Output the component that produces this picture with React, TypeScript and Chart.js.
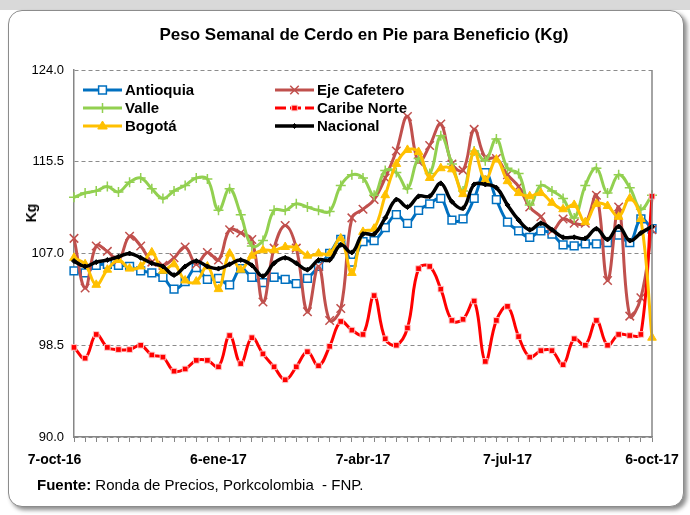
import React, { useEffect, useRef } from 'react';
import { Chart, registerables } from 'chart.js';

Chart.register(...registerables);

const weeks = [
  '7-oct-16', '14-oct-16', '21-oct-16', '28-oct-16',
  '4-nov-16', '11-nov-16', '18-nov-16', '25-nov-16',
  '2-dic-16', '9-dic-16', '16-dic-16', '23-dic-16', '30-dic-16',
  '6-ene-17', '13-ene-17', '20-ene-17', '27-ene-17',
  '3-feb-17', '10-feb-17', '17-feb-17', '24-feb-17',
  '3-mar-17', '10-mar-17', '17-mar-17', '24-mar-17', '31-mar-17',
  '7-abr-17', '14-abr-17', '21-abr-17', '28-abr-17',
  '5-may-17', '12-may-17', '19-may-17', '26-may-17',
  '2-jun-17', '9-jun-17', '16-jun-17', '23-jun-17', '30-jun-17',
  '7-jul-17', '14-jul-17', '21-jul-17', '28-jul-17',
  '4-ago-17', '11-ago-17', '18-ago-17', '25-ago-17',
  '1-sep-17', '8-sep-17', '15-sep-17', '22-sep-17', '29-sep-17',
  '6-oct-17',
];

const tickWeeks = ['7-oct-16', '6-ene-17', '7-abr-17', '7-jul-17', '6-oct-17'];

const antioquia = [
  105.4, 105.2, 105.9, 106.0, 105.9, 105.8, 105.4, 105.2, 104.8, 103.7,
  104.4, 105.7, 104.6, 104.7, 104.1, 105.6, 104.8, 104.3, 104.8, 104.6,
  104.2, 104.7, 105.8, 107.0, 108.3, 106.2, 108.1, 108.2, 109.4, 110.6,
  109.8, 111.0, 111.6, 112.1, 110.1, 110.2, 112.1, 114.5, 112.0, 109.9,
  109.1, 108.5, 109.1, 108.8, 107.8, 107.7, 107.9, 107.9, 108.0, 108.7,
  108.0, 110.2, 109.3,
];

const ejeCafetero = [
  108.4, 103.8, 107.7, 107.2, 106.4, 108.6, 107.7, 106.2, 105.9, 106.6,
  107.6, 106.0, 107.1, 106.4, 109.2, 108.9, 108.3, 102.5, 107.5, 109.6,
  107.5, 101.6, 105.8, 100.8, 101.9, 110.3, 111.1, 112.0, 114.0, 116.5,
  119.7, 115.5, 117.0, 119.0, 115.3, 114.7, 118.5, 115.9, 115.8, 114.3,
  113.2, 111.3, 110.4, 109.1, 110.2, 109.8, 109.8, 112.4, 104.5, 111.3,
  101.2, 102.9, 109.2,
];

const valle = [
  112.2, 112.6, 112.8, 113.2, 112.7, 113.6, 114.0, 113.0, 112.1, 112.8,
  113.3, 114.0, 113.9, 111.0, 113.0, 110.6, 107.7, 108.2, 111.0, 111.0,
  111.6, 111.3, 111.0, 110.9, 113.3, 114.3, 114.0, 112.4, 114.7, 114.5,
  113.0, 115.8, 114.4, 117.9, 115.3, 112.8, 116.5, 115.6, 117.6, 114.9,
  114.4, 111.5, 113.3, 112.8, 112.1, 110.3, 113.3, 114.9, 112.6, 114.3,
  113.1, 111.1, 112.4,
];

const caribeNorte = [
  98.3, 97.3, 99.5, 98.3, 98.1, 98.1, 98.5, 97.6, 97.4, 96.1,
  96.3, 97.1, 97.1, 96.5, 99.4, 96.8, 99.2, 97.7, 96.5, 95.3,
  96.5, 97.9, 96.6, 98.4, 100.7, 99.9, 99.5, 103.1, 99.1, 98.5,
  100.1, 105.6, 105.8, 103.7, 100.8, 100.9, 102.6, 97.0, 100.8, 102.1,
  99.3, 97.4, 98.0, 98.0, 96.7, 99.1, 98.5, 100.8, 98.5, 99.5,
  99.4, 99.5, 112.3,
];

const bogota = [
  106.6, 106.0, 104.1, 105.5, 106.4, 105.6, 105.8, 107.1, 105.4, 106.0,
  104.5, 104.4, 105.8, 103.7, 107.0, 105.5, 106.8, 107.3, 107.3, 107.6,
  107.5, 106.8, 107.0, 107.0, 108.4, 105.2, 109.0, 109.3, 112.4, 115.3,
  116.6, 116.4, 114.0, 114.9, 114.8, 112.5, 116.4, 113.8, 115.7, 113.7,
  112.6, 112.3, 112.6, 111.7, 111.1, 111.5, 109.9, 111.6, 111.4, 110.4,
  112.1, 110.2, 99.2,
];

const nacional = [
  106.3, 105.8, 106.2, 106.4, 106.7, 107.0, 106.6, 106.1, 105.8, 105.0,
  105.8, 106.3, 105.8, 105.6, 106.0, 106.4, 105.9, 104.9, 106.1, 106.6,
  106.1, 105.5, 106.4, 106.4, 107.8, 107.1, 108.8, 108.8, 110.3, 112.0,
  111.3, 112.3, 112.3, 113.5, 111.8, 111.2, 113.4, 113.4, 113.1, 111.5,
  110.1, 109.2, 109.8, 109.2, 108.5, 108.5, 108.4, 109.3, 108.3, 109.5,
  108.2, 108.9, 109.5,
];

const yMin = 90;
const yMax = 124;
const yStep = 8.5;

const FONT = '"Liberation Sans", Arial, Helvetica, sans-serif';

function drawMarker(
  ctx: CanvasRenderingContext2D,
  style: string,
  x: number,
  y: number,
  r: number,
  fill: string,
  stroke: string,
  lw: number
) {
  ctx.save();
  ctx.lineWidth = lw;
  ctx.strokeStyle = stroke;
  ctx.fillStyle = fill;
  ctx.setLineDash([]);
  ctx.beginPath();
  if (style === 'rect') {
    const s = r * Math.SQRT1_2;
    ctx.rect(x - s, y - s, 2 * s, 2 * s);
    ctx.fill();
    ctx.stroke();
  } else if (style === 'rectRot') {
    ctx.moveTo(x, y - r);
    ctx.lineTo(x + r, y);
    ctx.lineTo(x, y + r);
    ctx.lineTo(x - r, y);
    ctx.closePath();
    ctx.fill();
    ctx.stroke();
  } else if (style === 'triangle') {
    ctx.moveTo(x, y - r);
    ctx.lineTo(x + r * 0.95, y + r * 0.6);
    ctx.lineTo(x - r * 0.95, y + r * 0.6);
    ctx.closePath();
    ctx.fill();
    ctx.stroke();
  } else if (style === 'cross') {
    ctx.moveTo(x, y - r);
    ctx.lineTo(x, y + r);
    ctx.moveTo(x - r, y);
    ctx.lineTo(x + r, y);
    ctx.stroke();
  } else if (style === 'crossRot') {
    const d = r * Math.SQRT1_2;
    ctx.moveTo(x - d, y - d);
    ctx.lineTo(x + d, y + d);
    ctx.moveTo(x - d, y + d);
    ctx.lineTo(x + d, y - d);
    ctx.stroke();
  }
  ctx.restore();
}

const legendPlugin = {
  id: 'innerLegend',
  afterDraw(chart: any) {
    const ctx: CanvasRenderingContext2D = chart.ctx;
    const area = chart.chartArea;
    const colX = [area.left + 9, area.left + 201];
    chart.data.datasets.forEach((ds: any, i: number) => {
      const col = i % 2;
      const row = Math.floor(i / 2);
      const x0 = colX[col];
      const y = area.top + 20 + row * 18;
      ctx.save();
      ctx.strokeStyle = ds.borderColor;
      ctx.lineWidth = ds.borderWidth;
      if (ds.legendDash) ctx.setLineDash(ds.legendDash);
      ctx.beginPath();
      ctx.moveTo(x0, y);
      ctx.lineTo(x0 + 39, y);
      ctx.stroke();
      ctx.restore();
      drawMarker(
        ctx,
        ds.pointStyle,
        x0 + 19.5,
        y,
        ds.pointRadius,
        ds.pointBackgroundColor,
        ds.pointBorderColor,
        ds.pointBorderWidth
      );
      ctx.save();
      ctx.fillStyle = '#000';
      ctx.font = 'bold 15px ' + FONT;
      ctx.textBaseline = 'middle';
      ctx.textAlign = 'left';
      ctx.fillText(ds.label, x0 + 42, y + 1);
      ctx.restore();
    });
  },
};

const framePlugin = {
  id: 'frameRight',
  afterDraw(chart: any) {
    const ctx: CanvasRenderingContext2D = chart.ctx;
    const a = chart.chartArea;
    ctx.save();
    ctx.strokeStyle = '#868686';
    ctx.lineWidth = 1.5;
    ctx.beginPath();
    ctx.moveTo(a.right, a.top);
    ctx.lineTo(a.right, a.bottom);
    ctx.stroke();
    ctx.restore();
  },
};

export default function App() {
  const canvasRef = useRef<HTMLCanvasElement>(null);

  useEffect(() => {
    const canvas = canvasRef.current;
    if (!canvas) return;
    Chart.defaults.font.family = FONT;
    const chart = new Chart(canvas, {
      type: 'line',
      data: {
        labels: weeks,
        datasets: [
          {
            label: 'Antioquia',
            data: antioquia,
            borderColor: '#0070C0',
            backgroundColor: '#0070C0',
            borderWidth: 3,
            pointStyle: 'rect',
            pointRadius: 5.5,
            pointBackgroundColor: '#ffffff',
            pointBorderColor: '#0070C0',
            pointBorderWidth: 1.5,
            tension: 0.4,
            order: 6,
          },
          {
            label: 'Eje Cafetero',
            data: ejeCafetero,
            borderColor: '#C0504D',
            backgroundColor: '#C0504D',
            borderWidth: 3,
            pointStyle: 'crossRot',
            pointRadius: 6,
            pointBackgroundColor: '#C0504D',
            pointBorderColor: '#C0504D',
            pointBorderWidth: 1.5,
            tension: 0.4,
            order: 5,
          },
          {
            label: 'Valle',
            data: valle,
            borderColor: '#92D050',
            backgroundColor: '#92D050',
            borderWidth: 3,
            pointStyle: 'cross',
            pointRadius: 5,
            pointBackgroundColor: '#92D050',
            pointBorderColor: '#92D050',
            pointBorderWidth: 1.5,
            tension: 0.4,
            order: 4,
          },
          {
            label: 'Caribe Norte',
            data: caribeNorte,
            borderColor: '#FF0000',
            backgroundColor: '#FF0000',
            borderWidth: 3,
            pointStyle: 'rect',
            pointRadius: 4,
            pointBackgroundColor: '#FF0000',
            pointBorderColor: 'rgba(255,210,210,0.9)',
            pointBorderWidth: 1,
            tension: 0.4,
            order: 3,
            legendDash: [11, 4],
          } as any,
          {
            label: 'Bogotá',
            data: bogota,
            borderColor: '#FFC000',
            backgroundColor: '#FFC000',
            borderWidth: 3,
            pointStyle: 'triangle',
            pointRadius: 5,
            pointBackgroundColor: '#FFC000',
            pointBorderColor: '#FFC000',
            pointBorderWidth: 1,
            tension: 0.4,
            order: 2,
          },
          {
            label: 'Nacional',
            data: nacional,
            borderColor: '#000000',
            backgroundColor: '#000000',
            borderWidth: 3.5,
            pointStyle: 'rectRot',
            pointRadius: 2.5,
            pointBackgroundColor: '#000000',
            pointBorderColor: '#000000',
            pointBorderWidth: 1,
            tension: 0.4,
            order: 1,
          },
        ],
      },
      options: {
        responsive: false,
        animation: false,
        layout: { padding: { left: 0, top: 70, right: 38, bottom: 0 } },
        plugins: {
          legend: { display: false },
          tooltip: { enabled: false },
          title: { display: false },
        },
        scales: {
          x: {
            type: 'category',
            offset: false,
            grid: {
              display: true,
              drawOnChartArea: false,
              drawTicks: true,
              tickLength: 5,
              tickColor: '#868686',
              tickWidth: 1,
            },
            border: { display: true, color: '#868686', width: 1.5 },
            ticks: {
              autoSkip: false,
              maxRotation: 0,
              minRotation: 0,
              padding: 10,
              color: '#000',
              font: { size: 14, weight: 'bold', family: FONT },
              callback: (_v: any, index: number) => {
                const lab = weeks[index];
                if (!tickWeeks.includes(lab)) return '';
                // Excel pushes the first edge label to the left of its tick
                if (index === 0) return lab + '          ';
                return lab;
              },
            },
            afterFit: (scale: any) => {
              scale.height = 78;
            },
          },
          y: {
            min: yMin,
            max: yMax,
            grid: {
              display: true,
              drawOnChartArea: true,
              drawTicks: false,
              color: '#8c8c8c',
              lineWidth: 1,
            },
            border: { display: true, color: '#868686', width: 1.5, dash: [4, 3] },
            ticks: {
              stepSize: yStep,
              padding: 10,
              color: '#000',
              font: { size: 13, family: FONT },
              callback: (v: any) => Number(v).toFixed(1),
            },
            title: { display: false },
            afterFit: (scale: any) => {
              scale.width = 74;
            },
          },
        },
      },
      plugins: [framePlugin, legendPlugin],
    } as any);
    return () => chart.destroy();
  }, []);

  return (
    <div
      style={{
        position: 'absolute',
        left: 0,
        top: 0,
        width: 690,
        height: 515,
        background: '#ffffff',
        overflow: 'hidden',
        fontFamily: FONT,
      }}
    >
      <div
        style={{
          position: 'absolute',
          left: 0,
          top: 0,
          width: 690,
          height: 10,
          background: '#D9D9D9',
        }}
      />
      <div
        style={{
          position: 'absolute',
          left: 8,
          top: 10,
          width: 674,
          height: 495,
          border: '1px solid #8c8c8c',
          borderRadius: 14,
          background: '#ffffff',
          boxShadow: '3px 3px 4px rgba(0,0,0,0.45)',
        }}
      />
      <canvas
        ref={canvasRef}
        width={690}
        height={515}
        style={{ position: 'absolute', left: 0, top: 0, display: 'block' }}
      />
      <div
        style={{
          position: 'absolute',
          left: 64,
          top: 25,
          width: 600,
          textAlign: 'center',
          fontSize: 17,
          fontWeight: 'bold',
          color: '#000',
          whiteSpace: 'nowrap',
        }}
      >
        Peso Semanal de Cerdo en Pie para Beneficio (Kg)
      </div>
      <div
        style={{
          position: 'absolute',
          left: 31,
          top: 213,
          transform: 'translate(-50%, -50%) rotate(-90deg)',
          fontSize: 14,
          fontWeight: 'bold',
          color: '#000',
          whiteSpace: 'nowrap',
        }}
      >
        Kg
      </div>
      <div
        style={{
          position: 'absolute',
          left: 37,
          top: 476,
          fontSize: 15,
          color: '#000',
          whiteSpace: 'pre',
        }}
      >
        <b>Fuente:</b> Ronda de Precios, Porkcolombia  - FNP.
      </div>
    </div>
  );
}
